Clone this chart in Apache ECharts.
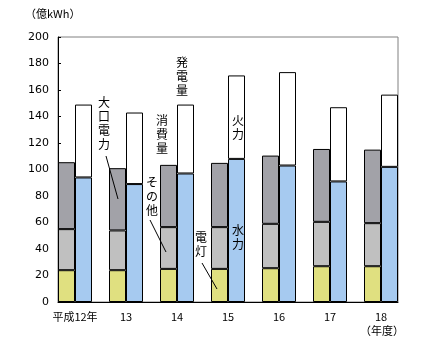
<!DOCTYPE html>
<html lang="ja">
<head>
    <meta charset="UTF-8">
    <title>電力消費量と発電量</title>
    <style>
        body { margin: 0; padding: 0; background: #fff; }
        #chart { width: 439px; height: 354px; }
    </style>
    <script src="https://cdn.jsdelivr.net/npm/echarts@6.0.0/dist/echarts.min.js"></script>
</head>
<body>
    <div id="chart"></div>
    <script>
        // 年度
        const years = ['平成12年', '13', '14', '15', '16', '17', '18'];
        // 消費量（億kWh）
        const dento = [24, 24, 25, 25, 25.5, 27, 27];           // 電灯
        const sonota = [31, 30, 31.5, 31.5, 33.5, 33.5, 32.5];  // その他
        const oguchi = [50.5, 47, 47, 48.5, 51.5, 55, 55.5];    // 大口電力
        // 発電量（億kWh）
        const suiryoku = [94, 89, 97, 108, 103, 91, 102];       // 水力
        const karyoku = [55, 54, 52, 63, 70.5, 56, 54.5];       // 火力
        const yTicks = { min: 0, max: 200, interval: 20 };

        const chart = echarts.init(document.getElementById('chart'));
        const jpFont = '"Noto Sans CJK JP", sans-serif';
        const numFont = '"DejaVu Sans", sans-serif';
        const border = { borderColor: '#000', borderWidth: 1 };

        function bar(name, data, stack, color) {
            return {
                name: name, type: 'bar', stack: stack, data: data,
                xAxisIndex: 0, yAxisIndex: 0,
                barWidth: 17, barGap: '0%',
                itemStyle: Object.assign({ color: color }, border)
            };
        }

        // 縦書きラベル
        function vtext(str, x, y) {
            return {
                type: 'text', left: x, top: y, z: 100,
                style: {
                    text: str.split('').join('\n'),
                    fontSize: 12, fontFamily: jpFont, fill: '#000', lineHeight: 14
                }
            };
        }
        function leader(x1, y1, x2, y2) {
            return {
                type: 'line', z: 100,
                shape: { x1: x1, y1: y1, x2: x2, y2: y2 },
                style: { stroke: '#000', lineWidth: 1 }
            };
        }

        const option = {
            animation: false,
            textStyle: { fontFamily: jpFont },
            grid: [
                { left: 49.5, top: 37, width: 357, height: 265 },
                { left: 58, top: 37, width: 340, height: 265, show: true,
                  borderColor: '#808080', borderWidth: 1, backgroundColor: 'transparent' }
            ],
            xAxis: [
                { type: 'category', gridIndex: 0, data: years,
                  axisLine: { show: false }, axisTick: { show: false },
                  axisLabel: { interval: 0, color: '#000', fontSize: 11, margin: 9,
                               fontFamily: jpFont } },
                { type: 'value', gridIndex: 1, min: 0, max: 1,
                  axisLine: { show: true, lineStyle: { color: '#000' } },
                  axisTick: { show: false }, axisLabel: { show: false }, splitLine: { show: false } }
            ],
            yAxis: [
                { type: 'value', gridIndex: 0, min: yTicks.min, max: yTicks.max, interval: yTicks.interval,
                  show: false },
                { type: 'value', gridIndex: 1, min: yTicks.min, max: yTicks.max, interval: yTicks.interval,
                  axisLine: { show: true, lineStyle: { color: '#000' } },
                  axisTick: { show: true, inside: true, length: 3, lineStyle: { color: '#000' } },
                  axisLabel: { color: '#000', fontSize: 11, margin: 9, fontFamily: numFont },
                  splitLine: { show: false } }
            ],
            series: [
                bar('電灯', dento, 'shohi', '#e0e080'),
                bar('その他', sonota, 'shohi', '#c0c0c0'),
                bar('大口電力', oguchi, 'shohi', '#a2a2a8'),
                bar('水力', suiryoku, 'hatsuden', '#a6caf0'),
                bar('火力', karyoku, 'hatsuden', '#ffffff')
            ],
            graphic: [
                { type: 'text', left: 25, top: 8, z: 100,
                  style: { text: '（億kWh）', fontSize: 11, fontFamily: jpFont, fill: '#000' } },
                { type: 'text', left: 360, top: 325, z: 100,
                  style: { text: '（年度）', fontSize: 11, fontFamily: jpFont, fill: '#000' } },
                vtext('発電量', 176, 55),
                vtext('消費量', 156, 113),
                vtext('大口電力', 98, 95),
                vtext('その他', 146, 175),
                vtext('電灯', 195, 230),
                vtext('火力', 232, 113),
                vtext('水力', 232, 223),
                leader(106, 156, 118, 199),
                leader(150, 220, 166, 252),
                leader(202, 263, 217, 289)
            ]
        };

        chart.setOption(option);
    </script>
</body>
</html>
